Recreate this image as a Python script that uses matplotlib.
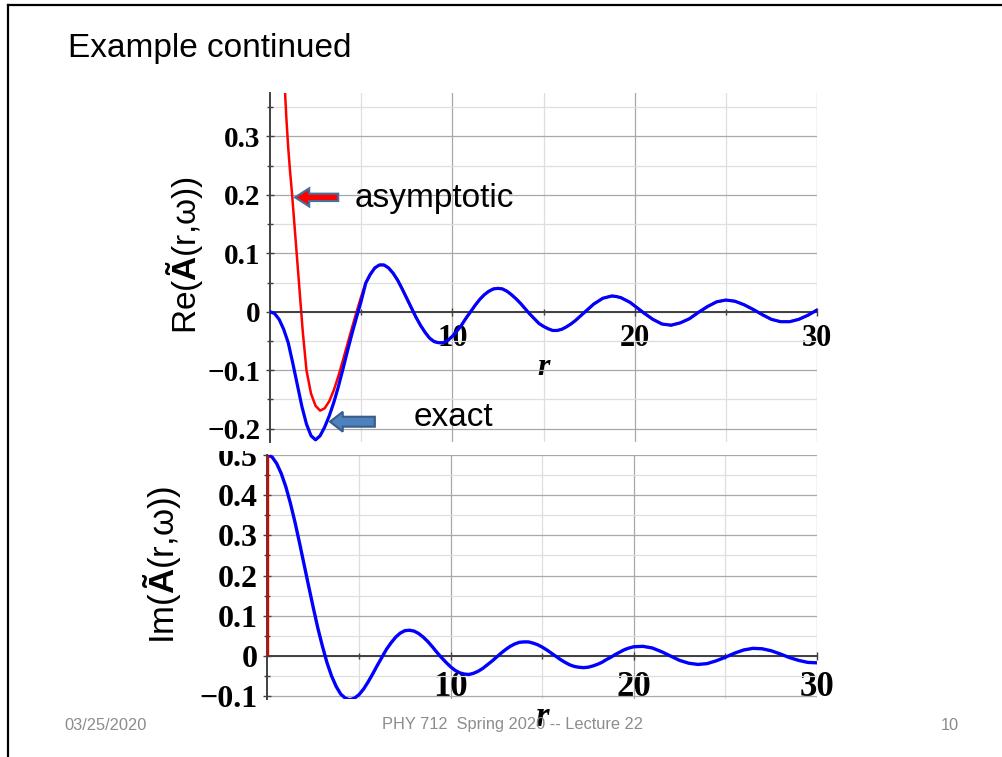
"""Slide figure: real and imaginary parts of A(r, w), exact vs asymptotic."""

import matplotlib.pyplot as plt
from matplotlib.patches import FancyArrow, Rectangle
from matplotlib.ticker import FixedLocator, MultipleLocator, FuncFormatter

# ---- data -------------------------------------------------------------
# sample grid the curves were read on: quarter steps to r = 20, half steps after
r_fine = [i / 4 for i in range(0, 81)]
r_coarse = [20.5 + i / 2 for i in range(20)]

# Re part, exact (blue), near the origin
r_re_head = r_fine[:21]
re_exact_head = [0, -0.003, -0.013, -0.030, -0.053, -0.088, -0.125, -0.162,
                 -0.192, -0.212, -0.219, -0.212, -0.197, -0.178, -0.155,
                 -0.128, -0.098, -0.067, -0.037, -0.009, 0.018]

# Re part, asymptotic (red), diverges near the origin
r_asym_head = [0.8, 0.9, 1.0, 1.1, 1.2, 1.3, 1.4, 1.5, 1.6, 1.7, 1.8, 2.0,
               2.25, 2.5, 2.75, 3.0, 3.25, 3.5, 3.75, 4.0, 4.25, 4.5, 4.75, 5.0]
re_asym_head = [0.39, 0.33, 0.28, 0.24, 0.205, 0.165, 0.125, 0.085, 0.045,
                0.005, -0.035, -0.10, -0.14, -0.161, -0.169, -0.165, -0.153,
                -0.134, -0.11, -0.083, -0.055, -0.027, 0.0, 0.026]

# beyond r = 5 both Re curves coincide
r_tail = r_fine[21:] + r_coarse
re_tail = [0.049, 0.064, 0.075, 0.080, 0.080, 0.075, 0.066, 0.054, 0.039, 0.023,
           0.007, -0.009, -0.023, -0.035, -0.045, -0.051, -0.053, -0.053, -0.049, -0.042,
           -0.033, -0.023, -0.011, 0.000, 0.011, 0.021, 0.029, 0.035, 0.039, 0.040,
           0.039, 0.035, 0.029, 0.022, 0.014, 0.005, -0.004, -0.012, -0.020, -0.025,
           -0.029, -0.032, -0.032, -0.030, -0.026, -0.021, -0.015, -0.008, -0.001, 0.006,
           0.013, 0.018, 0.023, 0.025, 0.027, 0.026, 0.024, 0.020, 0.016, 0.010,
           -0.002, -0.013, -0.021, -0.023, -0.019, -0.012, -0.001, 0.009, 0.017, 0.020,
           0.018, 0.012, 0.004, -0.005, -0.013, -0.017, -0.017, -0.013, -0.006, 0.003]

# Im part (blue)
r_im = r_fine + r_coarse
im_exact = [0.500, 0.495, 0.479, 0.454, 0.421, 0.380, 0.333, 0.281, 0.227, 0.173,
            0.120, 0.069, 0.024, -0.017, -0.050, -0.076, -0.095, -0.105, -0.109, -0.105,
            -0.096, -0.082, -0.064, -0.044, -0.023, -0.003, 0.017, 0.033, 0.047, 0.057,
            0.063, 0.064, 0.062, 0.056, 0.047, 0.036, 0.023, 0.009, -0.004, -0.016,
            -0.027, -0.036, -0.042, -0.045, -0.046, -0.043, -0.038, -0.031, -0.022, -0.013,
            -0.003, 0.007, 0.016, 0.024, 0.030, 0.034, 0.035, 0.035, 0.032, 0.028,
            0.022, 0.015, 0.007, -0.001, -0.009, -0.016, -0.022, -0.026, -0.028, -0.029,
            -0.028, -0.025, -0.021, -0.016, -0.009, -0.003, 0.004, 0.010, 0.016, 0.020,
            0.023,
            0.024, 0.020, 0.011, 0.000, -0.011, -0.018, -0.021, -0.019, -0.012, -0.003,
            0.007, 0.015, 0.019, 0.018, 0.013, 0.005, -0.004, -0.011, -0.016, -0.017]
# asymptotic Im only shows as a vertical red segment at r = 0
r_im_asym = [0, 0]
im_asym = [0, 0.5]

W, H = 1003, 757
BLUE = "#0000ff"
RED = "#ff0000"
AXC = "#404040"


def fx(px):
    return px / W


def fy(py):
    return 1 - py / H


def tick_fmt(v, _):
    if abs(v) < 1e-9:
        return "0"
    return f"{v:.1f}".replace("-", "\u2212")


def style_axes(ax, ylim, xsize, ysize):
    ax.set_xlim(0, 30)
    ax.set_ylim(*ylim)
    ax.spines[["top", "right"]].set_visible(False)
    ax.spines["bottom"].set_position(("data", 0))
    for s in ("left", "bottom"):
        ax.spines[s].set_color(AXC)
        ax.spines[s].set_linewidth(1.4)
    ax.xaxis.set_major_locator(FixedLocator([10, 20, 30]))
    ax.xaxis.set_minor_locator(FixedLocator([5, 15, 25]))
    ax.yaxis.set_major_locator(MultipleLocator(0.1))
    ax.yaxis.set_minor_locator(MultipleLocator(0.05))
    ax.yaxis.set_major_formatter(FuncFormatter(tick_fmt))
    ax.grid(which="major", color="#a8a8a8", lw=0.9)
    ax.grid(which="minor", color="#dedede", lw=0.9)
    ax.set_axisbelow(True)
    ax.tick_params(which="both", direction="inout", color=AXC, width=1)
    ax.tick_params(which="major", length=6)
    ax.tick_params(which="minor", length=4)
    for lab in ax.get_xticklabels():
        lab.set_fontfamily("Liberation Serif")
        lab.set_fontweight("bold")
        lab.set_fontsize(xsize)
    for lab in ax.get_yticklabels():
        lab.set_fontfamily("Liberation Serif")
        lab.set_fontweight("bold")
        lab.set_fontsize(ysize)


plt.rcParams.update({
    "font.family": ["Liberation Sans", "DejaVu Sans"],
    "mathtext.fontset": "custom",
    "mathtext.rm": "Liberation Sans",
    "mathtext.bf": "Liberation Sans:bold",
    "mathtext.it": "Liberation Sans:italic",
    "lines.solid_joinstyle": "round",
})

fig = plt.figure(figsize=(W / 100, H / 100), dpi=100)

# ---- top: real part --------------------------------------------------
ax1 = fig.add_axes([fx(270), fy(441.6), fx(817 - 270), (441.6 - 93) / H])
ax1.plot(r_asym_head + r_tail, re_asym_head + re_tail, color=RED, lw=1.8, zorder=2)
ax1.plot(r_re_head + r_tail, re_exact_head + re_tail, color=BLUE, lw=2.3, zorder=3)
style_axes(ax1, (-0.222, 0.374), 22, 21)
ax1.tick_params(axis="x", pad=6)
ax1.tick_params(axis="y", pad=4)
ax1.set_ylabel(r"Re($\mathbf{Ã}$(r,ω))", fontsize=24)
ax1.yaxis.set_label_coords(-0.119, 0.535)
ax1.set_xlabel("r", fontfamily="Liberation Serif", fontweight="bold",
               fontstyle="italic", fontsize=23, labelpad=0)

# block arrows and their labels
ax1.add_patch(FancyArrow(3.74, 0.1956, -2.37, 0, width=0.0126, head_width=0.031,
                         head_length=0.78, length_includes_head=True,
                         facecolor=RED, edgecolor="#41719c", lw=1.5, zorder=5))
ax1.text(4.66, 0.193, "asymptotic", fontsize=24, va="center", ha="left", zorder=5)
ax1.add_patch(FancyArrow(5.75, -0.188, -2.46, 0, width=0.017, head_width=0.034,
                         head_length=0.70, length_includes_head=True,
                         facecolor="#4f81bd", edgecolor="#385d8a", lw=1.5, zorder=5))
ax1.text(7.89, -0.181, "exact", fontsize=24, va="center", ha="left", zorder=5)

# ---- bottom: imaginary part ------------------------------------------
ax2 = fig.add_axes([fx(267.5), fy(699.4), fx(817 - 267.5), (699.4 - 455) / H])
ax2.plot(r_im_asym, im_asym, color="#e00000", lw=2.4, zorder=4, solid_capstyle="butt")
ax2.plot(r_im, im_exact, color=BLUE, lw=2.4, zorder=3)
style_axes(ax2, (-0.108, 0.5), 25, 23)
ax2.tick_params(axis="x", pad=8)
ax2.tick_params(axis="y", pad=4)
ax2.set_ylabel(r"Im($\mathbf{Ã}$(r,ω))", fontsize=25)
ax2.yaxis.set_label_coords(-0.154, 0.55)
ax2.set_xlabel("r", fontfamily="Liberation Serif", fontweight="bold",
               fontstyle="italic", fontsize=25, labelpad=-2)

# top plot image overlaps the top of the "0.5" label
fig.add_artist(Rectangle((fx(150), fy(451)), fx(115), 8 / H, transform=fig.transFigure,
                         facecolor="white", edgecolor="none", zorder=5))

# ---- slide decorations -----------------------------------------------
fig.add_artist(plt.Line2D([fx(8), fx(8)], [fy(5), 0], color="black", lw=1.6,
                          transform=fig.transFigure))
fig.add_artist(plt.Line2D([fx(8), 1], [fy(5), fy(5)], color="black", lw=1.6,
                          transform=fig.transFigure))
fig.text(fx(68), fy(48), "Example continued", fontsize=24, va="center", ha="left")

foot = dict(fontsize=11.8, color="#8c8c8c", va="center", ha="center",
            family=["Liberation Sans Narrow", "Liberation Sans"])
fig.text(fx(106), fy(725), "03/25/2020", **foot)
fig.text(fx(513), fy(725), "PHY 712  Spring 2020 -- Lecture 22", **foot)
fig.text(fx(950), fy(725), "10", **foot)

fig.savefig("out.png", dpi=100)
